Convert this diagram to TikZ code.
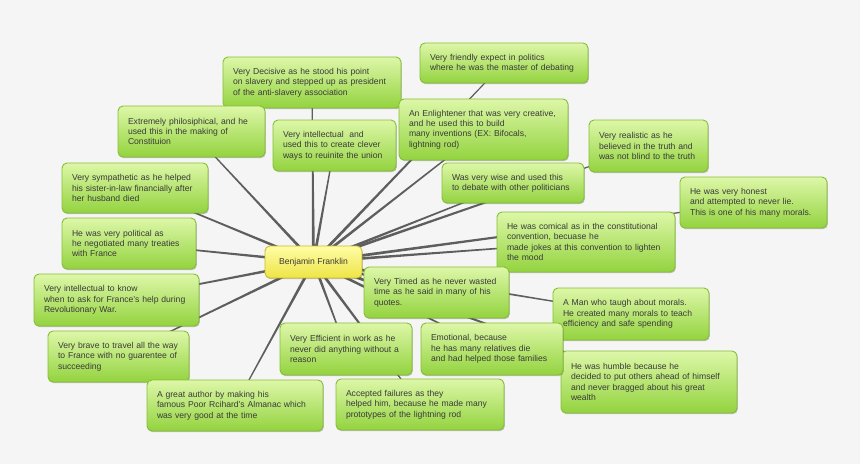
\documentclass[tikz,border=0pt]{standalone}
\usepackage{fontspec}
\setmainfont{Liberation Sans}
\usetikzlibrary{calc,shadows}

\definecolor{paper}{HTML}{F5F5F5}
\definecolor{ink}{HTML}{3A3A3A}
\definecolor{spokegray}{HTML}{5E5E5E}
\definecolor{leaftop}{HTML}{DDF7A8}
\definecolor{leafbot}{HTML}{93D33F}
\definecolor{leafline}{HTML}{86BE36}
\definecolor{hubtop}{HTML}{FFFDA6}
\definecolor{hubbot}{HTML}{EEE446}
\definecolor{hubline}{HTML}{C8BC2C}

\pgfdeclarelayer{back}
\pgfdeclarelayer{spokes}
\pgfsetlayers{back,spokes,main}

\tikzset{
  idea/.style={rounded corners=5pt, line width=0.9pt, text=ink,
    font=\fontsize{8.6}{10.3}\selectfont,
    drop shadow={shadow xshift=0.8pt, shadow yshift=-1.2pt, opacity=0.22, fill=black}},
  leaf/.style 2 args={idea, draw=leafline, top color=leaftop, bottom color=leafbot,
    align=left, inner xsep=10pt, inner ysep=2pt,
    minimum width=#1pt, minimum height=#2pt, text width=#1pt-20pt},
  hubbox/.style={idea, draw=hubline, top color=hubtop, bottom color=hubbot,
    minimum width=97pt, minimum height=32pt},
  spoke/.style={fill=spokegray},
}

\begin{document}
\begin{tikzpicture}[x=1pt, y=-1pt]
\begin{pgfonlayer}{back}
\fill[paper] (0,0) rectangle (860,464);
\end{pgfonlayer}
\useasboundingbox (0,0) rectangle (860,464);

% centre
\node[hubbox] (hub) at (313.5,262) {Benjamin Franklin};

% ideas, top half
\node[leaf={168}{40}] (friendly) at (504,63) {Very friendly expect in politics\\where he was the master of debating};
\node[leaf={178}{51}] (decisive) at (312,82.5) {Very Decisive as he stood his point\\on slavery and stepped up as president\\of the anti-slavery association};
\node[leaf={147}{51}] (philo) at (191.5,131.5) {Extremely philosiphical, and he\\used this in the making of\\Constituion};
\node[leaf={123}{51}] (intellect) at (334.5,145.5) {Very intellectual\ \ and\\used this to create clever\\ways to reuinite the union};
\node[leaf={169}{61}] (enlight) at (483.5,129.5) {An Enlightener that was very creative,\\and he used this to build\\many inventions (EX: Bifocals,\\lightning rod)};
\node[leaf={119}{52}] (realist) at (648.5,146) {Very realistic as he\\believed in the truth and\\was not blind to the truth};
\node[leaf={146}{50}] (sympath) at (135,188) {Very sympathetic as he helped\\his sister-in-law financially after\\her husband died};
\node[leaf={142}{40}] (wise) at (513,183) {Was very wise and used this\\to debate with other politicians};
\node[leaf={147}{51}] (honest) at (753.5,202.5) {He was very honest\\and attempted to never lie.\\This is one of his many morals.};
\node[leaf={134}{51}] (politic) at (129,243.5) {He was very political as\\he negotiated many treaties\\with France};
\node[leaf={178}{60}] (comical) at (586,242) {He was comical as in the constitutional\\convention, becuase he\\made jokes at this convention to lighten\\the mood};

% ideas, bottom half
\node[leaf={165}{52}] (know) at (116.5,300) {Very intellectual to know\\when to ask for France's help during\\Revolutionary War.};
\node[leaf={145}{51}] (timed) at (436.5,292.5) {Very Timed as he never wasted\\time as he said in many of his\\quotes.};
\node[leaf={156}{52}] (morals) at (631,314) {A Man who taugh about morals.\\He created many morals to teach\\efficiency and safe spending};
\node[leaf={141}{51}] (brave) at (118.5,356.5) {Very brave to travel all the way\\to France with no guarentee of\\succeeding};
\node[leaf={132}{52}] (efficient) at (346,349) {Very Efficient in work as he\\never did anything without a\\reason};
\node[leaf={176}{62}] (humble) at (649,382) {He was humble because he\\decided to put others ahead of himself\\and never bragged about his great\\wealth};
\node[leaf={142}{52}] (emotion) at (492,349) {Emotional, because\\he has many relatives die\\and had helped those families};
\node[leaf={176}{51}] (author) at (235,405.5) {A great author by making his\\famous Poor Rcihard's Almanac which\\was very good at the time};
\node[leaf={168}{51}] (failure) at (420,404.5) {Accepted failures as they\\helped him, because he made many\\prototypes of the lightning rod};

% tapered spokes, under the boxes
\begin{pgfonlayer}{spokes}
\foreach \leaf in {friendly,decisive,philo,intellect,enlight,realist,sympath,wise,
  honest,politic,comical,know,timed,morals,brave,efficient,humble,emotion,author,failure}
  \fill[spoke] ($(hub.center)!1.5pt!90:(\leaf.center)$)
    -- ($(\leaf.center)!0.45pt!-90:(hub.center)$)
    -- ($(\leaf.center)!0.45pt!90:(hub.center)$)
    -- ($(hub.center)!1.5pt!-90:(\leaf.center)$) -- cycle;
\end{pgfonlayer}
\end{tikzpicture}
\end{document}
